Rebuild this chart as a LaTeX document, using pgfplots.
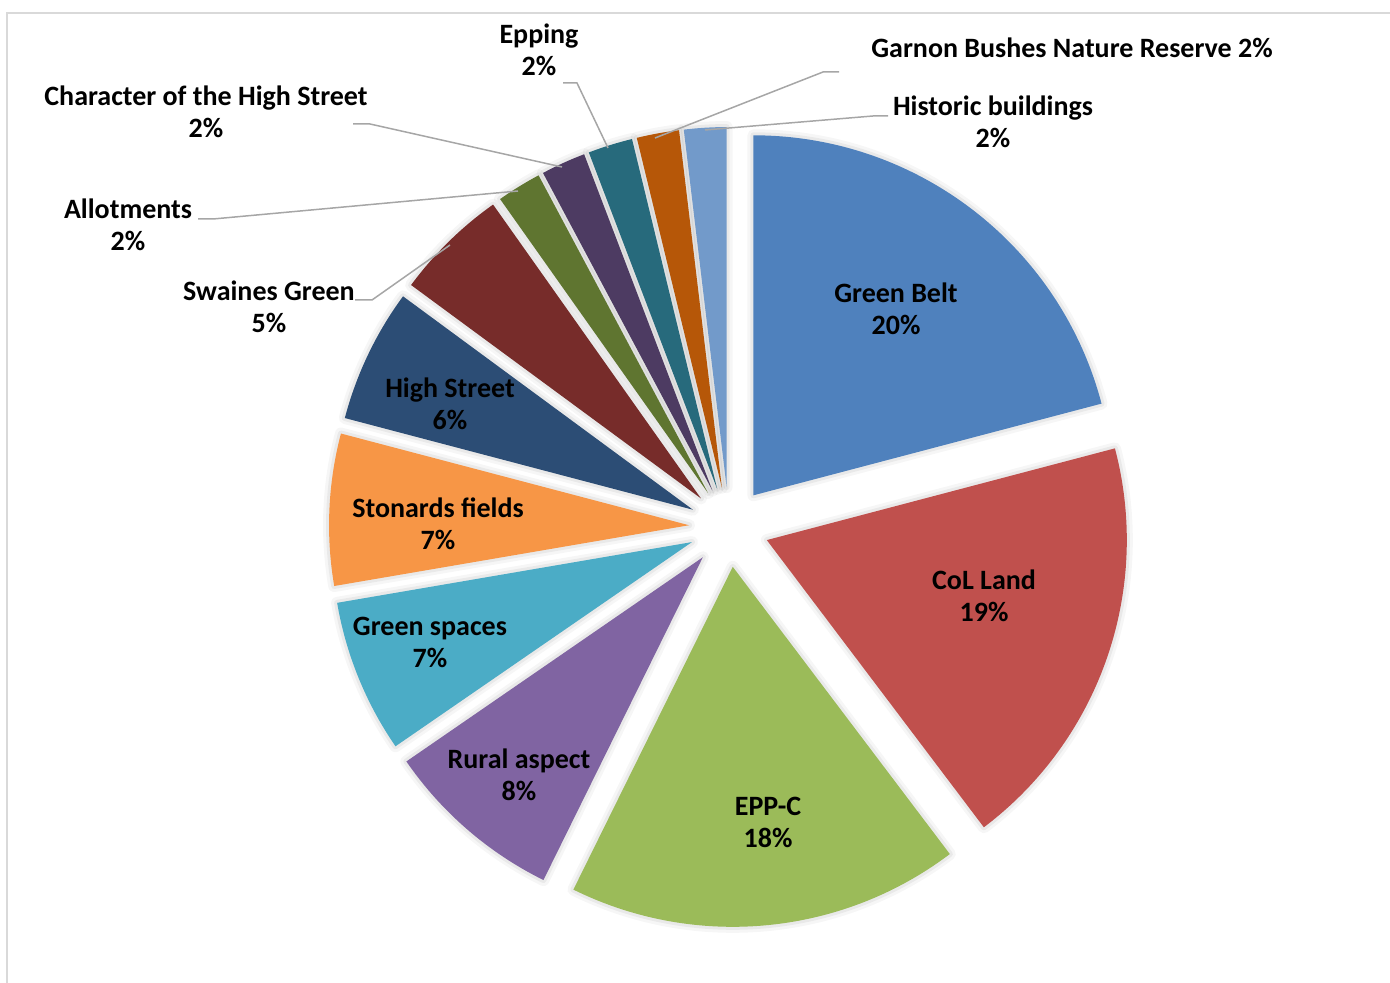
\documentclass[border=0pt]{standalone}
\usepackage{pgfplots}
\pgfplotsset{compat=1.18}
\usepackage{pgfplotstable}
\usepackage{fontspec}
\setmainfont{Carlito}

\definecolor{cGB}{HTML}{4F81BD}
\definecolor{cCoL}{HTML}{C0504D}
\definecolor{cEPP}{HTML}{9BBB59}
\definecolor{cRur}{HTML}{8064A2}
\definecolor{cGS}{HTML}{4BACC6}
\definecolor{cSto}{HTML}{F79646}
\definecolor{cHS}{HTML}{2C4D75}
\definecolor{cSw}{HTML}{772C2A}
\definecolor{cAll}{HTML}{5F7530}
\definecolor{cChar}{HTML}{4D3B62}
\definecolor{cEpp}{HTML}{276A7C}
\definecolor{cGar}{HTML}{B65708}
\definecolor{cHist}{HTML}{729ACA}
\definecolor{leader}{HTML}{A6A6A6}
\definecolor{frame}{HTML}{D9D9D9}

\tikzset{lbl/.style={font=\bfseries\fontsize{14}{16}\selectfont, align=center, text=black}}

% share of each topic, in percent, clockwise from 12 o'clock
\pgfplotstableread{
value colr
20.9  cGB
18.8  cCoL
17.6  cEPP
8.1   cRur
6.9   cGS
6.8   cSto
6.0   cHS
5.1   cSw
2.0   cAll
2.0   cChar
2.0   cEpp
1.9   cGar
1.9   cHist
}\piedata

% pie geometry in picture pixels (y downwards)
\def\cx{729}\def\cy{527}\def\expl{40}

\def\acc{90}
\pgfplotsforeachungrouped \i in {0,...,12}{%
  \pgfplotstablegetelem{\i}{value}\of\piedata
  \pgfmathsetmacro\sweep{3.6*\pgfplotsretval}%
  \pgfmathsetmacro\angB{\acc-\sweep}%
  \pgfmathsetmacro\angM{\acc-\sweep/2}%
  \pgfmathsetmacro\apX{\cx+\expl*cos(\angM)}%
  \pgfmathsetmacro\apY{\cy-\expl*sin(\angM)}%
  \expandafter\xdef\csname pA\i\endcsname{\acc}%
  \expandafter\xdef\csname pB\i\endcsname{\angB}%
  \expandafter\xdef\csname pX\i\endcsname{\apX}%
  \expandafter\xdef\csname pY\i\endcsname{\apY}%
  \pgfplotstablegetelem{\i}{colr}\of\piedata
  \expandafter\xdef\csname pC\i\endcsname{\pgfplotsretval}%
  \xdef\acc{\angB}%
}
\newcommand\slicepath[1]{(axis cs:\csname pX#1\endcsname,\csname pY#1\endcsname)
  -- ++(\csname pA#1\endcsname:180pt)
  arc[start angle=\csname pA#1\endcsname, end angle=\csname pB#1\endcsname, radius=180pt]
  -- cycle}

\begin{document}
\begin{tikzpicture}
\begin{axis}[
    width=695pt, height=491.5pt, scale only axis,
    xmin=0, xmax=1390, ymin=0, ymax=983,
    y dir=reverse,
    axis lines=none, ticks=none,
    clip=false,
]
\coordinate (BL) at (axis cs:0,983);
\coordinate (TR) at (axis cs:1390,0);

% chart area frame
\draw[frame, line width=1pt] (axis cs:7,1000) -- (axis cs:7,13) -- (axis cs:1420,13);

% soft shadow round the slices
\pgfplotsinvokeforeach{0,...,12}{
  \draw[black, opacity=0.035, line width=6pt, line join=round] \slicepath{#1};
  \draw[black, opacity=0.05, line width=3pt, line join=round] \slicepath{#1};
}
% slices
\pgfplotsinvokeforeach{0,...,12}{
  \fill[fill=\csname pC#1\endcsname] \slicepath{#1};
}

% leader lines
\draw[leader, line width=0.75pt] (axis cs:355,300) -- (axis cs:372,300) -- (axis cs:450,245);
\draw[leader, line width=0.75pt] (axis cs:198,219) -- (axis cs:213,219) -- (axis cs:518,191);
\draw[leader, line width=0.75pt] (axis cs:353,124) -- (axis cs:370,124) -- (axis cs:562,167);
\draw[leader, line width=0.75pt] (axis cs:563,83) -- (axis cs:577,83) -- (axis cs:608,148);
\draw[leader, line width=0.75pt] (axis cs:839,72) -- (axis cs:823,72) -- (axis cs:655,138);
\draw[leader, line width=0.75pt] (axis cs:888,116) -- (axis cs:873,116) -- (axis cs:705,130);

% data labels
\node[lbl] at (axis cs:896,309) {Green Belt\\20\%};
\node[lbl] at (axis cs:984,596) {CoL Land\\19\%};
\node[lbl] at (axis cs:768,822) {EPP-C\\18\%};
\node[lbl] at (axis cs:519,775) {Rural aspect\\8\%};
\node[lbl] at (axis cs:430,642) {Green spaces\\7\%};
\node[lbl] at (axis cs:438,524) {Stonards fields\\7\%};
\node[lbl] at (axis cs:450,404) {High Street\\6\%};
\node[lbl] at (axis cs:269,307) {Swaines Green\\5\%};
\node[lbl] at (axis cs:128,225) {Allotments\\2\%};
\node[lbl] at (axis cs:206,112) {Character of the High Street\\2\%};
\node[lbl] at (axis cs:539,50) {Epping\\2\%};
\node[lbl] at (axis cs:1072,48) {Garnon Bushes Nature Reserve 2\%};
\node[lbl] at (axis cs:993,122) {Historic buildings\\2\%};
\end{axis}
\pgfresetboundingbox
\path (BL) rectangle (TR);
\end{tikzpicture}
\end{document}
